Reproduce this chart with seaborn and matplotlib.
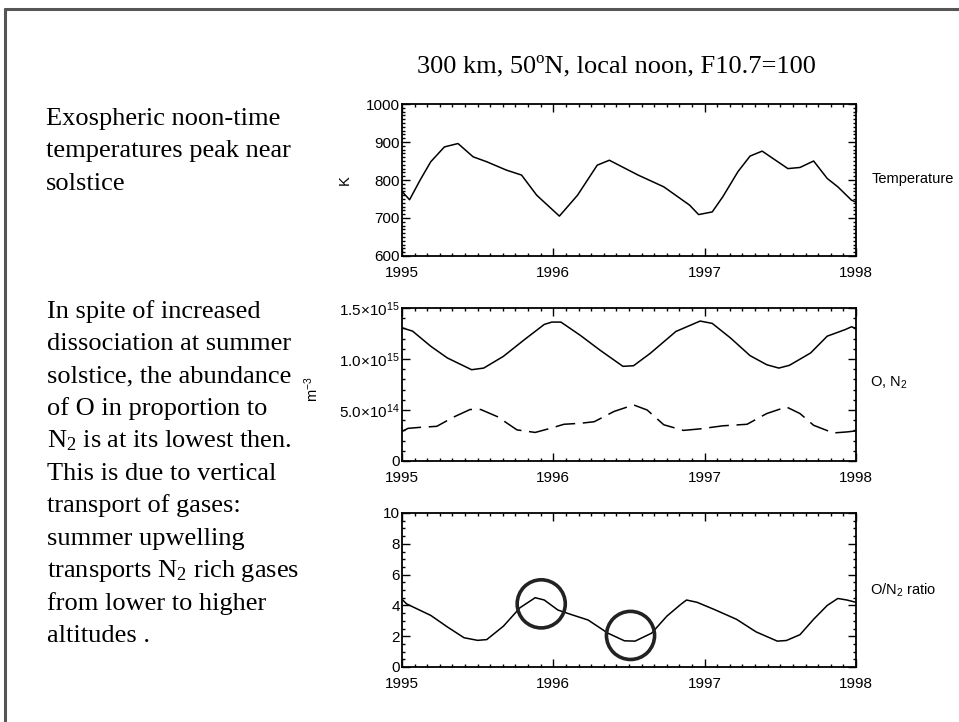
import matplotlib
matplotlib.use("Agg")
import matplotlib.pyplot as plt
from matplotlib.ticker import MultipleLocator, FixedLocator, FixedFormatter
from matplotlib.lines import Line2D
import seaborn as sns

# ---- data -------------------------------------------------------------
# Noon exospheric temperature (K)
temp_year = [1995.00, 1995.05, 1995.12, 1995.19, 1995.28, 1995.37, 1995.47,
             1995.56, 1995.69, 1995.79, 1995.89, 1996.04, 1996.16, 1996.29,
             1996.37, 1996.56, 1996.73, 1996.90, 1996.96, 1997.05, 1997.12,
             1997.22, 1997.30, 1997.38, 1997.45, 1997.55, 1997.63, 1997.72,
             1997.81, 1997.88, 1997.97, 1998.00]
temp_K = [770, 748, 800, 848, 887, 896, 861,
          848, 826, 813, 760, 705, 760, 839,
          852, 813, 782, 734, 709, 716, 756,
          822, 863, 876, 857, 830, 833, 850,
          804, 782, 747, 742]

# Atomic oxygen number density (m^-3)
o_year = [1995.00, 1995.07, 1995.19, 1995.30, 1995.46, 1995.54, 1995.67,
          1995.81, 1995.94, 1995.99, 1996.05, 1996.18, 1996.31, 1996.46,
          1996.53, 1996.64, 1996.81, 1996.97, 1997.05, 1997.17, 1997.30,
          1997.41, 1997.49, 1997.56, 1997.70, 1997.81, 1997.93, 1997.97,
          1998.00]
o_density = [1.306e15, 1.273e15, 1.125e15, 1.010e15, 0.895e15, 0.911e15, 1.026e15,
             1.191e15, 1.339e15, 1.362e15, 1.362e15, 1.230e15, 1.085e15, 0.928e15,
             0.934e15, 1.055e15, 1.270e15, 1.372e15, 1.349e15, 1.207e15, 1.033e15,
             0.944e15, 0.911e15, 0.938e15, 1.059e15, 1.224e15, 1.289e15, 1.316e15,
             1.300e15]

# Molecular nitrogen number density (m^-3)
n2_year = [1995.00, 1995.04, 1995.12, 1995.23, 1995.34, 1995.45, 1995.52,
           1995.63, 1995.76, 1995.88, 1995.98, 1996.07, 1996.18, 1996.27,
           1996.40, 1996.53, 1996.62, 1996.73, 1996.86, 1996.97, 1997.12,
           1997.28, 1997.41, 1997.54, 1997.63, 1997.72, 1997.85, 1997.94,
           1998.00]
n2_density = [2.90e14, 3.20e14, 3.30e14, 3.40e14, 4.30e14, 5.05e14, 5.05e14,
              4.35e14, 3.05e14, 2.80e14, 3.20e14, 3.60e14, 3.70e14, 3.85e14,
              4.85e14, 5.50e14, 5.00e14, 3.55e14, 3.00e14, 3.15e14, 3.45e14,
              3.60e14, 4.65e14, 5.30e14, 4.65e14, 3.50e14, 2.75e14, 2.85e14,
              2.95e14]

# O/N2 ratio
ratio_year = [1995.00, 1995.03, 1995.19, 1995.30, 1995.41, 1995.50, 1995.56,
              1995.67, 1995.78, 1995.88, 1995.94, 1996.03, 1996.12, 1996.23,
              1996.36, 1996.47, 1996.54, 1996.65, 1996.75, 1996.84, 1996.88,
              1996.95, 1997.06, 1997.21, 1997.34, 1997.48, 1997.54, 1997.63,
              1997.72, 1997.81, 1997.88, 1997.94, 1998.00]
ratio = [4.40, 4.10, 3.35, 2.60, 1.90, 1.73, 1.78,
         2.65, 3.85, 4.50, 4.35, 3.70, 3.40, 3.05,
         2.20, 1.70, 1.68, 2.20, 3.30, 4.05, 4.35,
         4.20, 3.75, 3.10, 2.28, 1.68, 1.72, 2.10,
         3.10, 4.00, 4.45, 4.35, 4.20]

# Winter maximum / summer minimum of the ratio that are ringed
highlight_year = [1995.92, 1996.51]
highlight_ratio = [4.10, 2.05]

year_ticks = [1995, 1996, 1997, 1998]
year_labels = ["1995", "1996", "1997", "1998"]
temp_ticks = [600, 700, 800, 900, 1000]
temp_labels = ["600", "700", "800", "900", "1000"]
dens_ticks = [0, 5.0e14, 1.0e15, 1.5e15]
dens_labels = ["0", r"5.0$\times$10$^{14}$", r"1.0$\times$10$^{15}$",
               r"1.5$\times$10$^{15}$"]
ratio_ticks = [0, 2, 4, 6, 8, 10]
ratio_labels = ["0", "2", "4", "6", "8", "10"]

title_text = "300 km, 50ºN, local noon, F10.7=100"
notes_temp = ["Exospheric noon-time",
              "temperatures peak near",
              "solstice"]
notes_comp = ["In spite of increased",
              "dissociation at summer",
              "solstice, the abundance",
              "of O in proportion to",
              r"N$_2$ is at its lowest then.",
              "This is due to vertical",
              "transport of gases:",
              "summer upwelling",
              r"transports N$_2$ rich gases",
              "from lower to higher",
              "altitudes ."]

# ---- style ------------------------------------------------------------
sns.set_theme(style="ticks")
plt.rcParams["font.family"] = ["Liberation Sans", "DejaVu Sans"]
plt.rcParams["mathtext.default"] = "regular"
plt.rcParams["axes.linewidth"] = 1.3
plt.rcParams["axes.edgecolor"] = "black"
plt.rcParams["text.color"] = "black"
plt.rcParams["xtick.color"] = "black"
plt.rcParams["ytick.color"] = "black"
plt.rcParams["xtick.labelcolor"] = "black"
plt.rcParams["ytick.labelcolor"] = "black"

W, H = 959, 722
fig = plt.figure(figsize=(W / 100, H / 100), dpi=100)
fig.patch.set_facecolor("white")

SERIF = ["Liberation Serif", "DejaVu Serif"]
SANS = ["Liberation Sans", "DejaVu Sans"]


def px_axes(x0, y0, x1, y1):
    return fig.add_axes([x0 / W, 1 - y1 / H, (x1 - x0) / W, (y1 - y0) / H])


def style_axis(ax, ylim, yticks, ylabels, yminor):
    ax.set_xlim(1995, 1998)
    ax.set_ylim(*ylim)
    ax.xaxis.set_major_locator(FixedLocator(year_ticks))
    ax.xaxis.set_major_formatter(FixedFormatter(year_labels))
    ax.xaxis.set_minor_locator(MultipleLocator(1 / 12))
    ax.yaxis.set_major_locator(FixedLocator(yticks))
    ax.yaxis.set_major_formatter(FixedFormatter(ylabels))
    ax.yaxis.set_minor_locator(MultipleLocator(yminor))
    ax.tick_params(which="both", direction="in", top=True, right=True,
                   color="black", labelcolor="black", width=1.0)
    ax.tick_params(which="major", length=5.5)
    ax.tick_params(which="minor", length=2.5)
    ax.tick_params(axis="x", which="major", pad=7, labelsize=11)
    ax.tick_params(axis="y", which="major", pad=1.5, labelsize=11)
    for lab in ax.get_xticklabels() + ax.get_yticklabels():
        lab.set_family(SANS)
    ax.set_xlabel("")
    ax.set_ylabel("")
    ax.set_facecolor("white")
    for s in ax.spines.values():
        s.set_visible(True)
        s.set_color("black")


# Temperature panel
ax1 = px_axes(402, 104, 856, 256)
sns.lineplot(x=temp_year, y=temp_K, ax=ax1, color="black", linewidth=1.1,
             estimator=None, sort=False)
style_axis(ax1, (600, 1000), temp_ticks, temp_labels, 10)

# Density panel
ax2 = px_axes(402, 308, 856, 461)
sns.lineplot(x=o_year, y=o_density, ax=ax2, color="black", linewidth=1.1,
             estimator=None, sort=False)
sns.lineplot(x=n2_year, y=n2_density, ax=ax2, color="black", linewidth=1.1,
             estimator=None, sort=False, dashes=False)
ax2.lines[-1].set_dashes((13, 5))
style_axis(ax2, (0, 1.5e15), dens_ticks, dens_labels, 1e14)

# Ratio panel
ax3 = px_axes(402, 513, 856, 667)
sns.lineplot(x=ratio_year, y=ratio, ax=ax3, color="black", linewidth=1.1,
             estimator=None, sort=False)
ax3.scatter(highlight_year, highlight_ratio, s=1200, marker="o",
            facecolors="none", edgecolors="#222222", linewidths=2.6,
            clip_on=False, zorder=5)
style_axis(ax3, (0, 10), ratio_ticks, ratio_labels, 0.5)


def ftext(x, y, s, **kw):
    kw.setdefault("color", "black")
    return fig.text(x / W, 1 - y / H, s, **kw)


# Axis units
ftext(345, 180, "K", rotation=90, ha="center", va="center",
      family=SANS, fontsize=10.5)
ftext(312, 389, r"m$^{-3}$", rotation=90, ha="center", va="center",
      family=SANS, fontsize=10.5)

# Panel names on the right
ftext(872, 183, "Temperature", ha="left", va="baseline",
      family=SANS, fontsize=10.5)
ftext(870, 387, r"O, N$_2$", ha="left", va="baseline",
      family=SANS, fontsize=10.5)
ftext(870, 595, r"O/N$_2$ ratio", ha="left", va="baseline",
      family=SANS, fontsize=10.5)

# Heading
ftext(616, 72, title_text, ha="center", va="baseline",
      family=SERIF, fontsize=19)

# Explanatory notes
LINE = 32.4
for i, line in enumerate(notes_temp):
    ftext(46, 125 + i * LINE, line, ha="left", va="baseline",
          family=SERIF, fontsize=19)
for i, line in enumerate(notes_comp):
    ftext(47, 318 + i * LINE, line, ha="left", va="baseline",
          family=SERIF, fontsize=19)

# Frame around the sheet (top and left edges)
fig.add_artist(Line2D([5 / W, 1.0], [1 - 9 / H, 1 - 9 / H],
                      color="#555555", linewidth=2.2))
fig.add_artist(Line2D([5 / W, 5 / W], [0.0, 1 - 9 / H],
                      color="#555555", linewidth=2.2))

fig.savefig("out.png", dpi=100)
